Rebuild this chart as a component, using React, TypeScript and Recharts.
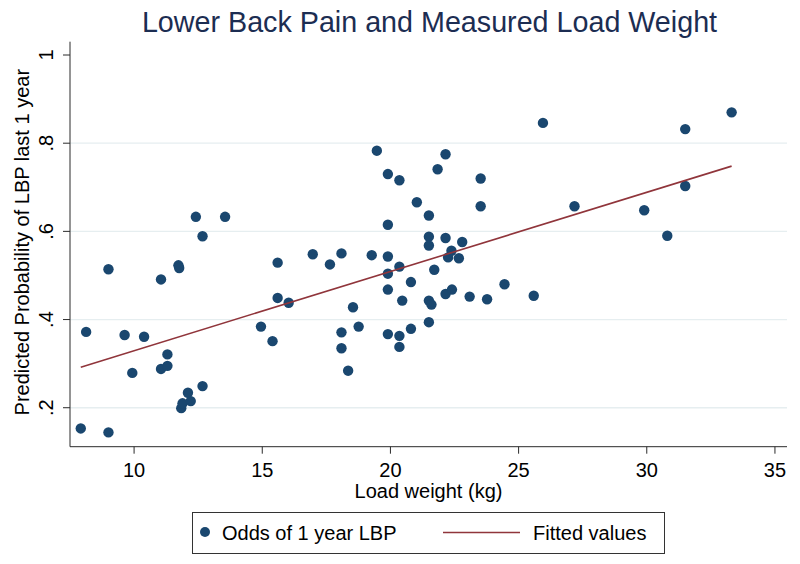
import React from "react";
import {
  ScatterChart,
  Scatter,
  XAxis,
  YAxis,
  ReferenceLine,
  Label,
} from "recharts";

// ---- data ----
const loadWeight: number[] = [
  7.92, 9.0, 8.13, 9.0, 9.63, 9.93, 10.39, 11.05, 11.05, 11.3,
  11.3, 11.73, 11.76, 11.84, 11.89, 12.1, 12.21, 12.67, 12.41, 13.55,
  12.67, 15.6, 15.6, 16.03, 14.95, 15.4, 25.95, 19.47, 22.15, 21.84,
  19.9, 20.35, 23.52, 21.03, 23.52, 27.18, 21.5, 19.9, 21.5, 22.15,
  21.5, 22.8, 22.38, 22.25, 22.67, 16.97, 18.09, 17.64, 19.27, 19.9,
  19.9, 20.35, 21.71, 20.8, 19.9, 18.54, 20.46, 21.5, 21.6, 22.15,
  22.4, 23.09, 23.77, 24.45, 25.59, 18.76, 18.09, 18.09, 18.35, 19.9,
  20.35, 20.35, 20.8, 21.5, 33.31, 31.5, 31.5, 29.9, 30.8,
];
const oddsLBP: number[] = [
  0.153, 0.144, 0.372, 0.514, 0.365, 0.279, 0.361, 0.491, 0.288, 0.295,
  0.321, 0.523, 0.517, 0.199, 0.21, 0.234, 0.215, 0.249, 0.633, 0.633,
  0.589, 0.529, 0.449, 0.438, 0.384, 0.351, 0.846, 0.783, 0.775, 0.741,
  0.73, 0.716, 0.72, 0.666, 0.657, 0.657, 0.636, 0.615, 0.588, 0.585,
  0.568, 0.576, 0.556, 0.541, 0.539, 0.548, 0.55, 0.525, 0.546, 0.543,
  0.504, 0.52, 0.513, 0.485, 0.468, 0.428, 0.443, 0.443, 0.434, 0.458,
  0.468, 0.452, 0.446, 0.48, 0.454, 0.384, 0.371, 0.335, 0.284, 0.367,
  0.363, 0.338, 0.379, 0.394, 0.87, 0.832, 0.703, 0.648, 0.59,
];
const fitWeight: number[] = [7.92, 33.31];
const fitValues: number[] = [0.292, 0.748];

const xTicks: number[] = [10, 15, 20, 25, 30, 35];
const yTicks: number[] = [0.2, 0.4, 0.6, 0.8, 1];
const gridValues: number[] = [0.2, 0.4, 0.6, 0.8];

const TITLE = "Lower Back Pain and Measured Load Weight";
const X_TITLE = "Load weight (kg)";
const Y_TITLE = "Predicted Probability of LBP last 1 year";
const SERIES_DOTS = "Odds of 1 year LBP";
const SERIES_FIT = "Fitted values";

const scatterData = loadWeight.map((x, i) => ({ x, y: oddsLBP[i] }));
const fitData = fitWeight.map((x, i) => ({ x, y: fitValues[i] }));

const FONT = '"Liberation Sans", Arial, Helvetica, sans-serif';
const NAVY = "#1a476f";
const MAROON = "#90353b";
const AXIS = "#2a2a2a";

const fmtY = (v: number) => (v === 1 ? "1" : String(v).replace(/^0/, ""));

const YTick = (props: any) => {
  const { x, y, payload } = props;
  const bx = x - 8;
  return (
    <text
      x={bx}
      y={y}
      transform={`rotate(-90, ${bx}, ${y})`}
      textAnchor="middle"
      fontSize={20}
      fontFamily={FONT}
      fill="#000"
    >
      {fmtY(payload.value)}
    </text>
  );
};

const Dot = (props: any) => (
  <circle cx={props.cx} cy={props.cy} r={5.2} fill={NAVY} />
);

const NoShape = () => <g />;

export default function App() {
  return (
    <div
      style={{
        position: "absolute",
        left: 0,
        top: 0,
        width: 800,
        height: 564,
        background: "#fff",
        fontFamily: FONT,
      }}
    >
      <ScatterChart
        width={800}
        height={564}
        margin={{ top: 41.7, right: 13, bottom: 57.3, left: 10 }}
      >
        {gridValues.map((g) => (
          <ReferenceLine
            key={g}
            y={g}
            stroke="#e6eef0"
            strokeWidth={1.3}
            ifOverflow="extendDomain"
          />
        ))}
        <XAxis
          type="number"
          dataKey="x"
          domain={[7.5, 35.47]}
          ticks={xTicks}
          allowDataOverflow
          height={60}
          tickSize={7}
          tickMargin={9}
          tick={{ fontSize: 20, fill: "#000", fontFamily: FONT }}
          tickLine={{ stroke: AXIS }}
          axisLine={{ stroke: AXIS }}
        >
          <Label
            content={(p: any) => {
              const vb = p.viewBox;
              return (
                <text
                  x={vb.x + vb.width / 2}
                  y={vb.y + 51}
                  textAnchor="middle"
                  fontSize={20}
                  fontFamily={FONT}
                  fill="#000"
                >
                  {X_TITLE}
                </text>
              );
            }}
          />
        </XAxis>
        <YAxis
          type="number"
          dataKey="y"
          domain={[0.1116, 1.0302]}
          ticks={yTicks}
          allowDataOverflow
          width={60}
          tickSize={7}
          tickMargin={2}
          tick={<YTick />}
          tickLine={{ stroke: AXIS }}
          axisLine={{ stroke: AXIS }}
        >
          <Label
            content={(p: any) => {
              const vb = p.viewBox;
              const bx = vb.x + 19;
              const cy = vb.y + vb.height / 2 - 2;
              return (
                <text
                  x={bx}
                  y={cy}
                  transform={`rotate(-90, ${bx}, ${cy})`}
                  textAnchor="middle"
                  fontSize={20}
                  fontFamily={FONT}
                  fill="#000"
                >
                  {Y_TITLE}
                </text>
              );
            }}
          />
        </YAxis>
        <Scatter
          name={SERIES_DOTS}
          data={scatterData}
          shape={<Dot />}
          isAnimationActive={false}
        />
        <Scatter
          name={SERIES_FIT}
          data={fitData}
          shape={<NoShape />}
          line={{ stroke: MAROON, strokeWidth: 1.6 }}
          lineType="joint"
          isAnimationActive={false}
        />
      </ScatterChart>

      <svg
        width={800}
        height={564}
        style={{ position: "absolute", left: 0, top: 0, pointerEvents: "none" }}
      >
        <text
          x={429.5}
          y={32}
          textAnchor="middle"
          fontSize={28.7}
          fontFamily={FONT}
          fill="#1c2d52"
        >
          {TITLE}
        </text>
        <rect
          x={192.5}
          y={512.5}
          width={472}
          height={41}
          fill="#fff"
          stroke="#333"
          strokeWidth={1}
        />
        <circle cx={205} cy={532} r={5} fill={NAVY} />
        <text x={222} y={539.5} fontSize={20} fontFamily={FONT} fill="#000">
          {SERIES_DOTS}
        </text>
        <line x1={443} y1={532.5} x2={520} y2={532.5} stroke={MAROON} strokeWidth={1.6} />
        <text x={533} y={539.5} fontSize={20} fontFamily={FONT} fill="#000">
          {SERIES_FIT}
        </text>
      </svg>
    </div>
  );
}
